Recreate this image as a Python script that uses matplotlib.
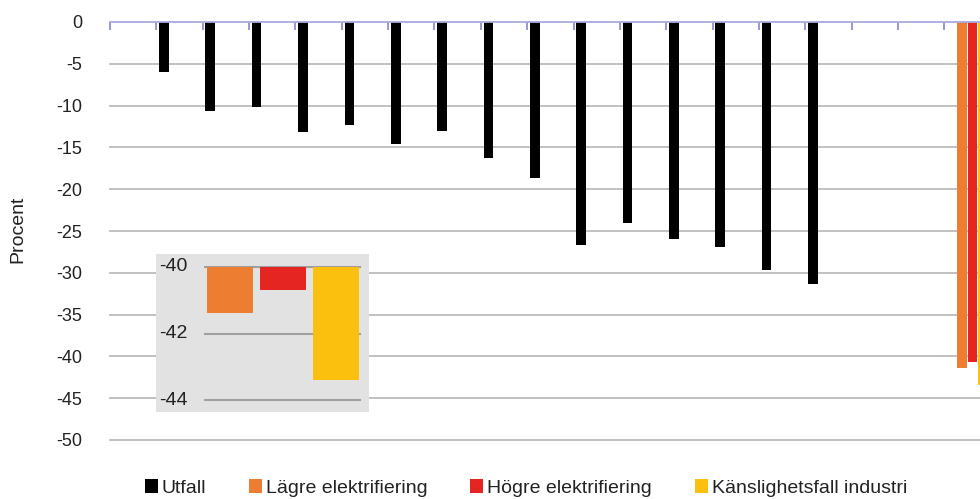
import numpy as np
import matplotlib
matplotlib.use("Agg")
import matplotlib.pyplot as plt
from matplotlib.patches import Patch

plt.rcParams['font.family'] = ['Liberation Sans', 'DejaVu Sans']
plt.rcParams['axes.unicode_minus'] = False

# ---- data ----
categories = ['1990'] + [str(y) for y in range(2005, 2020)] + ['', '', '2030']
nan = np.nan
utfall = [0.0, -6.0, -10.7, -10.2, -13.1, -12.3, -14.6, -13.0, -16.3, -18.7,
          -26.7, -24.0, -26.0, -26.9, -29.7, -31.3, nan, nan, nan]
lagre = [nan] * 18 + [-41.4]
hogre = [nan] * 18 + [-40.7]
kanslig = [nan] * 18 + [-43.4]
series_names = ['Utfall', 'Lägre elektrifiering', 'Högre elektrifiering', 'Känslighetsfall industri']
colors = ['#000000', '#ED7D31', '#E52522', '#FBBF0D']
yticks = list(range(0, -55, -5))
inset_ticks = [-40, -42, -44]

W, H = 980, 499
fig = plt.figure(figsize=(W / 100, H / 100), dpi=100)

n = len(categories)
cat_px = 46.35
ax = fig.add_axes([110 / W, 1 - 440 / H, n * cat_px / W, 418 / H])
ax.set_xlim(-0.5, n - 0.5)
ax.set_ylim(-50, 0)

x = np.arange(n)
bw = 0.224
all_series = [utfall, lagre, hogre, kanslig]
for i, (vals, c) in enumerate(zip(all_series, colors)):
    off = (i - 1.5) * bw
    ax.bar(x + off, vals, width=bw * 0.93, color=c, zorder=3)

# gridlines
for t in yticks[1:]:
    ax.axhline(t, color='#bcbcbc', lw=1.3, zorder=1, clip_on=False)

for s in ['left', 'right', 'bottom']:
    ax.spines[s].set_visible(False)
ax.spines['top'].set_color('#aaaadd')
ax.spines['top'].set_linewidth(1.3)
ax.spines['top'].set_zorder(4)

ax.set_yticks(yticks)
ax.set_yticklabels([str(t) for t in yticks])
ax.tick_params(axis='y', length=0, pad=20, labelsize=13, labelcolor='#222222')
ax.set_xticks([])
ax.set_xticks(np.arange(n) - 0.5, minor=True)
ax.tick_params(axis='x', which='minor', top=True, bottom=False, direction='in',
               length=6, width=1.2, color='#8888cc')

fig.text(18 / W, 1 - 229 / H, 'Procent', rotation=90, ha='center', va='center',
         fontsize=14, color='#222222')

# ---- inset ----
ax_in = fig.add_axes([156 / W, 1 - 411.7 / H, 213 / W, 157.7 / H])
ax_in.set_facecolor('#e2e2e2')
ax_in.set_ylim(-44.34, -39.62)
ax_in.set_xlim(-1.396, 2.62)
for s in ax_in.spines.values():
    s.set_visible(False)
ax_in.set_xticks([])
ax_in.set_yticks([])
inset_vals = [lagre[-1], hogre[-1], kanslig[-1]]
ax_in.bar([0, 1, 2], [v - (-40) for v in inset_vals], bottom=-40, width=0.87,
          color=colors[1:], zorder=3)
ax_in.hlines(inset_ticks, -0.49, 2.47, color='#a0a0a0', lw=1.5, zorder=2)
for t in inset_ticks:
    ax_in.text(-1.33, t, str(t), ha='left', va='center', fontsize=14, color='#222222')

# ---- legend ----
handles = [Patch(facecolor=c, edgecolor='none') for c in colors]
fig.legend(handles, series_names, loc='center', bbox_to_anchor=(526 / W, 1 - 488 / H),
           ncol=4, frameon=False, fontsize=14, handlelength=0.67, handleheight=0.67,
           handletextpad=0.2, columnspacing=2.2, labelcolor='#222222')

fig.savefig('out.png', dpi=100)
